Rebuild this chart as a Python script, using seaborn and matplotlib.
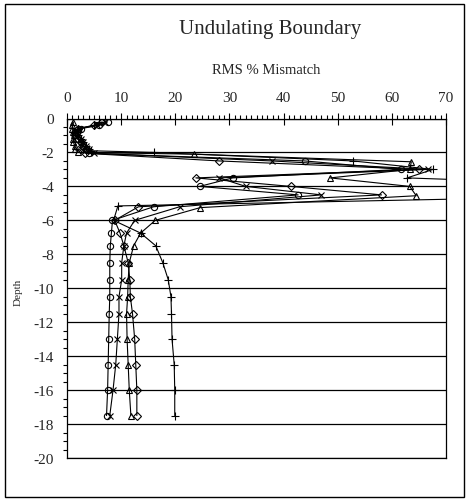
import matplotlib
matplotlib.use("Agg")
import matplotlib.pyplot as plt
import seaborn as sns
import pandas as pd
from matplotlib.patches import Rectangle
from matplotlib.ticker import MultipleLocator

# ---------------- data ----------------
depth_common = [-0.2, -0.4, -0.6, -0.8, -1.0, -1.2, -1.4, -1.6, -1.8, -2.05,
                -2.5, -3.0, -3.5, -4.0, -4.5, -5.2, -6.0, -6.75, -7.5, -8.5,
                -9.5, -10.5, -11.5, -13.0, -14.5, -16.0, -17.5]
rms_circle = [7.5, 6.0, 2.5, 1.8, 1.5, 2.0, 2.5, 3.0, 3.5, 4.0,
              43.9, 61.7, 30.6, 24.5, 42.7, 16.0, 8.4, 8.2, 8.0, 7.9,
              7.9, 7.9, 7.8, 7.7, 7.6, 7.5, 7.3]
rms_cross = [7.0, 5.5, 2.2, 1.8, 2.0, 2.5, 3.0, 3.5, 4.0, 5.0,
             37.8, 66.7, 28.1, 33.0, 47.0, 20.8, 12.5, 11.0, 10.5, 10.1,
             10.1, 9.6, 9.6, 9.3, 9.0, 8.5, 7.9]
rms_diamond = [6.5, 5.0, 2.0, 1.5, 1.5, 2.0, 2.5, 2.8, 3.0, 3.4,
               28.1, 65.0, 23.8, 41.3, 58.1, 13.2, 8.8, 9.8, 10.5, 11.3,
               11.6, 11.7, 12.1, 12.5, 12.7, 12.9, 12.9]

depth_triangle = [-0.2, -0.4, -0.6, -0.8, -1.0, -1.2, -1.4, -1.6, -1.8, -2.0,
                  -2.1, -2.55, -3.0, -3.5, -4.0, -4.55, -5.25, -6.0, -6.75, -7.5,
                  -8.5, -9.5, -10.5, -11.5, -13.0, -14.5, -16.0, -17.5]
rms_triangle = [1.2, 1.0, 1.0, 1.2, 1.3, 1.2, 1.2, 1.4, 1.5, 2.0,
                23.5, 63.6, 63.3, 48.6, 63.3, 64.5, 24.6, 16.3, 13.6, 12.3,
                11.5, 11.3, 11.2, 11.0, 11.1, 11.3, 11.5, 11.8]

depth_plus = [-0.2, -0.4, -0.6, -0.8, -1.0, -1.2, -1.4, -1.6, -1.8, -1.9,
              -2.0, -2.5, -3.0, -3.5, -4.0, -4.5, -5.15, -6.0, -6.75, -7.5,
              -8.5, -9.5, -10.5, -11.5, -13.0, -14.5, -16.0, -17.5]
rms_plus = [6.0, 5.0, 2.0, 1.8, 2.0, 2.5, 3.0, 3.5, 4.0, 4.5,
            16.1, 52.8, 67.6, 62.8, 108.0, 110.0, 9.4, 8.6, 13.6, 16.4,
            17.7, 18.7, 19.2, 19.3, 19.4, 19.8, 19.9, 19.9]

x_ticks = [0, 10, 20, 30, 40, 50, 60, 70]
y_ticks = [0, -2, -4, -6, -8, -10, -12, -14, -16, -18, -20]

title = "Undulating Boundary"
x_title = "RMS % Mismatch"
y_title = "Depth"

# ---------------- style ----------------
sns.set_theme(style="white")
plt.rcParams["font.family"] = ["Liberation Serif", "DejaVu Serif"]
plt.rcParams["axes.unicode_minus"] = False

W, H = 469, 502
fig = plt.figure(figsize=(W / 100, H / 100), dpi=100)
ax = fig.add_axes([67 / W, 1 - 459 / H, (446 - 67) / W, (459 - 119.5) / H])

series = [
    (depth_common, rms_circle, "o", 4.5),
    (depth_common, rms_cross, "x", 5.0),
    (depth_common, rms_diamond, "D", 3.6),
    (depth_triangle, rms_triangle, "^", 5.0),
    (depth_plus, rms_plus, "+", 6.0),
]
for d, v, m, ms in series:
    df = pd.DataFrame({"rms": v, "depth": d})
    sns.lineplot(data=df, x="rms", y="depth", sort=False, estimator=None,
                 color="black", linewidth=0.8, marker=m, markersize=ms,
                 markerfacecolor="none", markeredgecolor="black",
                 markeredgewidth=0.8, ax=ax, legend=False)

ax.set_xlim(0, 70)
ax.set_ylim(-20, 0)
ax.xaxis.tick_top()
ax.set_xticks(x_ticks)
ax.set_yticks(y_ticks)
ax.set_xticklabels([str(t) for t in x_ticks])
ax.set_yticklabels([str(t) for t in y_ticks])
ax.xaxis.set_minor_locator(MultipleLocator(1))
ax.yaxis.set_minor_locator(MultipleLocator(0.5))
ax.tick_params(axis="both", which="major", direction="inout", length=9,
               width=0.8, color="black", labelsize=11, pad=5)
ax.tick_params(axis="x", which="major", top=True, bottom=False, pad=6)
ax.tick_params(axis="x", which="minor", direction="out", length=3,
               width=0.8, top=True, bottom=False, color="black")
ax.tick_params(axis="y", which="minor", direction="out", length=3,
               width=0.8, left=True, color="black")
ax.set_xlabel("")
ax.set_ylabel("")
for s in ax.spines.values():
    s.set_color("black")
    s.set_linewidth(0.9)
ax.yaxis.grid(True, color="black", linewidth=0.9)
ax.xaxis.grid(False)
ax.set_axisbelow(True)

fig.text(270 / W, 1 - 34 / H, title, ha="center", va="baseline", fontsize=15)
fig.text(266 / W, 1 - 74 / H, x_title, ha="center", va="baseline", fontsize=10.5)
fig.text(18 / W, 1 - 292 / H, y_title, ha="center", va="center",
         rotation=90, fontsize=8)

fig.patches.append(Rectangle((5 / W, 4 / H), (459) / W, (493) / H,
                             transform=fig.transFigure, fill=False,
                             edgecolor="black", linewidth=1.0))

fig.savefig("out.png", dpi=100)
